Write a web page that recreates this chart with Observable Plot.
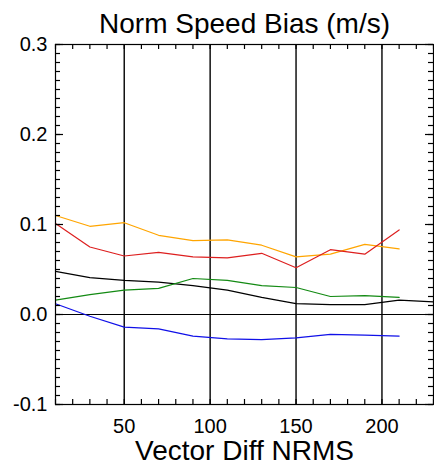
<!DOCTYPE html>
<html>
<head>
<meta charset="utf-8">
<script src="https://cdn.jsdelivr.net/npm/d3@7"></script>
<script src="https://cdn.jsdelivr.net/npm/@observablehq/plot@0.6"></script>
<style>
  html, body { margin: 0; padding: 0; background: #fff; }
</style>
</head>
<body>
<div id="chart"></div>
<script>
const title = "Norm Speed Bias (m/s)";
const xLabel = "Vector Diff NRMS";
const xValues = [10, 30, 50, 70, 90, 110, 130, 150, 170, 190, 210];
const xValuesBlack = [10, 30, 50, 70, 90, 110, 130, 150, 170, 190, 210, 230];
const orangeValues = [0.110, 0.098, 0.102, 0.088, 0.082, 0.083, 0.077, 0.064, 0.067, 0.078, 0.073];
const redValues    = [0.101, 0.075, 0.065, 0.069, 0.064, 0.063, 0.068, 0.052, 0.072, 0.067, 0.094];
const blackValues  = [0.048, 0.041, 0.038, 0.036, 0.032, 0.027, 0.019, 0.012, 0.011, 0.011, 0.016, 0.014];
const greenValues  = [0.016, 0.022, 0.027, 0.029, 0.040, 0.038, 0.032, 0.030, 0.020, 0.021, 0.019];
const blueValues   = [0.012, -0.002, -0.014, -0.016, -0.024, -0.027, -0.028, -0.026, -0.022, -0.023, -0.024];
const xTickLabels = [50, 100, 150, 200];
const yTickLabels = [-0.1, 0.0, 0.1, 0.2, 0.3];
const verticalLines = [50, 100, 150, 200];

const series = [
  {name: "orange", x: xValues, y: orangeValues, color: "#ffa500"},
  {name: "red", x: xValues, y: redValues, color: "#dd1f1f"},
  {name: "black", x: xValuesBlack, y: blackValues, color: "#000000"},
  {name: "green", x: xValues, y: greenValues, color: "#138a13"},
  {name: "blue", x: xValues, y: blueValues, color: "#1010e8"}
];
const rows = series.flatMap(s => s.y.map((v, i) => ({series: s.name, x: s.x[i], y: v, color: s.color})));

const W = 434, H = 464;
const mL = 55, mR = 1, mT = 44, mB = 60;
const innerW = W - mL - mR, innerH = H - mT - mB;
const font = "'Liberation Sans', Arial, Helvetica, sans-serif";

const yMinor = d3.range(-100, 301, 10).map(d => d / 1000);
const xMinor = d3.range(10, 231, 10);
const tickStyle = {stroke: "#000", strokeWidth: 1.2};

const chart = Plot.plot({
  width: W, height: H,
  marginLeft: mL, marginRight: mR, marginTop: mT, marginBottom: mB,
  style: {fontFamily: font, fontSize: "20px", background: "#fff", color: "#000"},
  x: {domain: [10, 230], label: null},
  y: {domain: [-0.1, 0.3], label: null},
  marks: [
    Plot.ruleY([0], {stroke: "#000", strokeWidth: 1}),
    Plot.ruleX(verticalLines, {stroke: "#000", strokeWidth: 1.4}),
    Plot.line(rows, {x: "x", y: "y", z: "series", stroke: "color", strokeWidth: 1.2}),
    // inward ticks on left/right
    Plot.ruleY(yMinor, {y: d => d, insetRight: innerW - 5, ...tickStyle}),
    Plot.ruleY(yMinor, {y: d => d, insetLeft: innerW - 5, ...tickStyle}),
    Plot.ruleY(yTickLabels, {y: d => d, insetRight: innerW - 8, ...tickStyle}),
    Plot.ruleY(yTickLabels, {y: d => d, insetLeft: innerW - 8, ...tickStyle}),
    // inward ticks on top/bottom
    Plot.ruleX(xMinor, {x: d => d, insetBottom: innerH - 5, ...tickStyle}),
    Plot.ruleX(xMinor, {x: d => d, insetTop: innerH - 5, ...tickStyle}),
    Plot.frame({stroke: "#000", strokeWidth: 1.2}),
    Plot.axisX({ticks: xTickLabels, tickSize: 0, tickPadding: 14, fontSize: 20, tickFormat: d => String(d), label: null}),
    Plot.axisY({ticks: yTickLabels, tickSize: 0, tickPadding: 8, fontSize: 20, tickFormat: d => d.toFixed(1), label: null}),
    Plot.text([title], {frameAnchor: "top", lineAnchor: "bottom", dy: -12, fontSize: 28, fill: "#000"}),
    Plot.text([xLabel], {frameAnchor: "bottom", lineAnchor: "bottom", dy: 55, fontSize: 28, fill: "#000"})
  ]
});
document.getElementById("chart").appendChild(chart);
</script>
</body>
</html>
